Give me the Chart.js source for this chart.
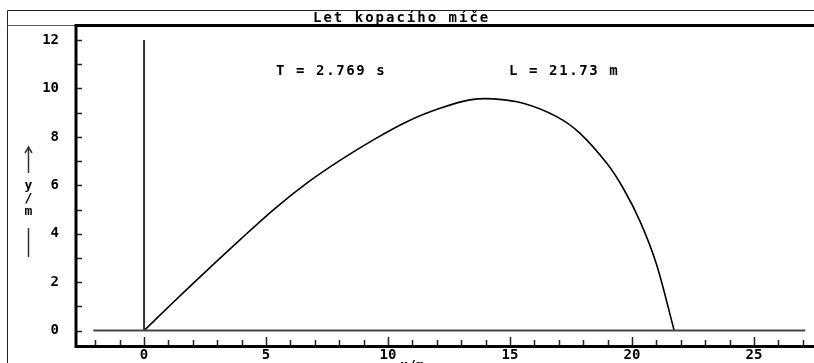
<!DOCTYPE html>
<html><head><meta charset="utf-8">
<script src="https://cdn.jsdelivr.net/npm/chart.js@4.4.1/dist/chart.umd.min.js"></script>
<style>html,body{margin:0;padding:0;background:#fff;overflow:hidden}#wrap{width:814px;height:363px;position:relative}</style>
</head><body><div id="wrap"><canvas id="c" width="814" height="363"></canvas></div>
<script>
// ---- data ----
const chartTitle = "Let kopacího míče";
const trajX = [0, 1.20, 2.57, 3.93, 5.30, 6.67, 8.03, 9.40, 10.77, 12.13, 13.36, 14.32, 15.54, 16.91, 17.87, 18.96, 19.64, 20.33, 21.01, 21.73];
const trajY = [0, 1.17, 2.48, 3.75, 4.99, 6.09, 7.03, 7.88, 8.63, 9.18, 9.53, 9.57, 9.39, 8.84, 8.15, 6.92, 5.88, 4.51, 2.72, 0];
const groundX = [-2.08, 27.1];
const groundY = [0, 0];
const poleX = [0, 0];
const poleY = [0, 12];
const xTickLabels = [0, 5, 10, 15, 20, 25];
const yTickLabels = [0, 2, 4, 6, 8, 10, 12];
const xMinorTicks = [-2,-1,0,1,2,3,4,5,6,7,8,9,10,11,12,13,14,15,16,17,18,19,20,21,22,23,24,25,26,27];
const yMinorTicks = [0,1,2,3,4,5,6,7,8,9,10,11,12];
const flightTime = 2.769;
const flightLength = 21.73;
const xLabel = "x/m";
const yLabelChars = ["y", "/", "m"];

const FONT = "'DejaVu Sans Mono', monospace";
const toPts = (xs, ys) => xs.map((x, i) => ({x: x, y: ys[i]}));

const decor = {
  id: 'decor',
  beforeDraw(chart) {
    const ctx = chart.ctx;
    ctx.save();
    ctx.fillStyle = '#fff';
    ctx.fillRect(0, 0, chart.width, chart.height);
    // outer window frame and title bar
    ctx.strokeStyle = '#222';
    ctx.lineWidth = 1;
    ctx.beginPath();
    ctx.moveTo(7.5, 363); ctx.lineTo(7.5, 10.5); ctx.lineTo(814, 10.5);
    ctx.stroke();
    ctx.strokeStyle = '#555';
    ctx.beginPath();
    ctx.moveTo(7, 25.5); ctx.lineTo(80, 25.5);
    ctx.stroke();
    ctx.fillStyle = '#000';
    ctx.font = 'bold 14px ' + FONT;
    ctx.letterSpacing = '2px';
    ctx.textAlign = 'left';
    ctx.textBaseline = 'middle';
    ctx.fillText(chartTitle, 313, 18);
    ctx.restore();
  },
  afterDatasetsDraw(chart) {
    const ctx = chart.ctx;
    const xs = chart.scales.x, ys = chart.scales.y;
    ctx.save();
    // plot frame
    ctx.strokeStyle = '#000';
    ctx.lineWidth = 3;
    ctx.beginPath();
    ctx.moveTo(814, 25.5); ctx.lineTo(76, 25.5); ctx.lineTo(76, 346.5); ctx.lineTo(814, 346.5);
    ctx.stroke();
    // tick marks
    ctx.strokeStyle = '#222';
    ctx.lineWidth = 1.5;
    ctx.beginPath();
    yMinorTicks.forEach(v => {
      const py = Math.round(ys.getPixelForValue(v)) + 0.5;
      ctx.moveTo(77, py); ctx.lineTo(82, py);
    });
    xMinorTicks.forEach(v => {
      const px = Math.round(xs.getPixelForValue(v)) + 0.5;
      const len = (v % 5 === 0) ? 8 : 5;
      ctx.moveTo(px, 345); ctx.lineTo(px, 345 - len);
    });
    ctx.stroke();
    // x tick labels
    ctx.fillStyle = '#000';
    ctx.font = 'bold 14px ' + FONT;
    ctx.textAlign = 'center';
    ctx.textBaseline = 'middle';
    xTickLabels.forEach(v => ctx.fillText(String(v), xs.getPixelForValue(v), 355));
    // annotations
    ctx.letterSpacing = '1.6px';
    ctx.textAlign = 'left';
    ctx.fillText('T = ' + flightTime.toFixed(3) + ' s', 276, 71);
    ctx.fillText('L = ' + flightLength.toFixed(2) + ' m', 509, 71);
    ctx.letterSpacing = '0px';
    // y axis label with arrow
    ctx.strokeStyle = '#333';
    ctx.lineWidth = 1.5;
    ctx.beginPath();
    ctx.moveTo(28.5, 173); ctx.lineTo(28.5, 148);
    ctx.moveTo(25, 153); ctx.lineTo(28.5, 147); ctx.lineTo(32, 153);
    ctx.moveTo(28.5, 228); ctx.lineTo(28.5, 257);
    ctx.stroke();
    ctx.textAlign = 'center';
    ctx.font = 'bold 13px ' + FONT;
    yLabelChars.forEach((ch, i) => ctx.fillText(ch, 28.5, 186 + i * 13));
    // x axis label (mostly below the visible area)
    ctx.textBaseline = 'top';
    ctx.fillText(xLabel, 412, 359);
    ctx.restore();
  }
};

new Chart(document.getElementById('c'), {
  type: 'scatter',
  data: {
    datasets: [
      {data: toPts(groundX, groundY), showLine: true, borderColor: '#444', borderWidth: 2, pointRadius: 0},
      {data: toPts(poleX, poleY), showLine: true, borderColor: '#333', borderWidth: 2, pointRadius: 0},
      {data: toPts(trajX, trajY), showLine: true, borderColor: '#000', borderWidth: 1.6, pointRadius: 0, tension: 0.3}
    ]
  },
  options: {
    responsive: false,
    devicePixelRatio: 1,
    animation: false,
    layout: {padding: {top: 27, left: 0, right: 0, bottom: 0}},
    plugins: {legend: {display: false}, tooltip: {enabled: false}, title: {display: false}},
    scales: {
      x: {
        type: 'linear', min: -2.83, max: 27.46,
        grid: {display: false}, border: {display: false},
        afterBuildTicks: s => { s.ticks = xTickLabels.map(v => ({value: v})); },
        afterFit: s => { s.height = 16; },
        ticks: {display: false}
      },
      y: {
        type: 'linear', min: -0.66, max: 12.54,
        grid: {display: false}, border: {display: false},
        afterBuildTicks: s => { s.ticks = yTickLabels.map(v => ({value: v})); },
        afterFit: s => { s.width = 75; },
        ticks: {color: '#000', padding: 8, autoSkip: false, font: {family: FONT, size: 14, weight: 'bold'}}
      }
    }
  },
  plugins: [decor]
});
</script></body></html>
